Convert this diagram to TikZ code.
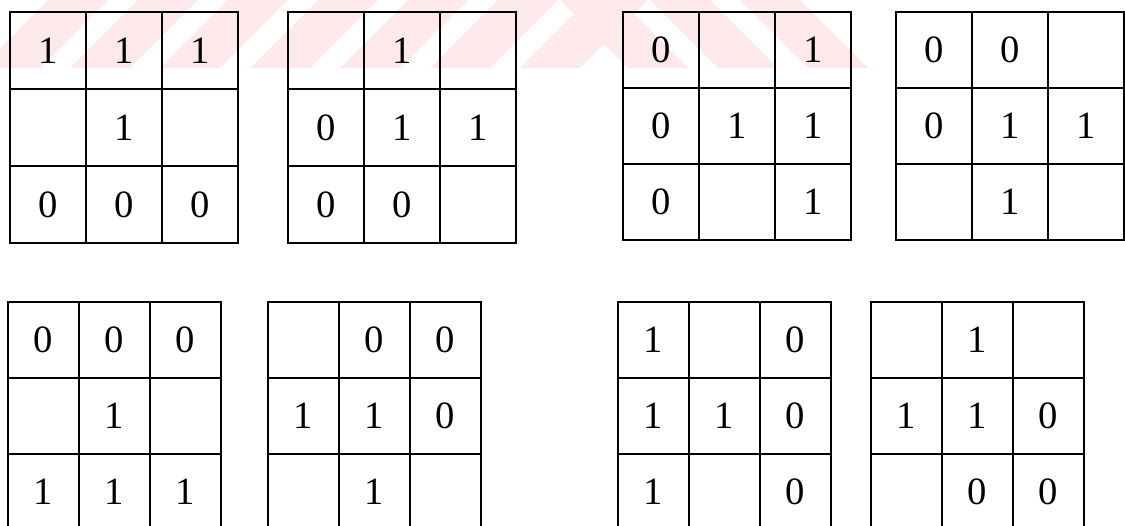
\documentclass[tikz,border=0pt]{standalone}
\usepackage{fontspec}
\setmainfont{Liberation Serif}
\usetikzlibrary{positioning}
\definecolor{markpink}{HTML}{FDE9EC}

% one 3x3 table: name, left, top, entries (row by row)
\newcommand{\cellgrid}[4]{%
  \foreach \val [count=\k from 0] in {#4} {
    \pgfmathtruncatemacro{\row}{\k/3}
    \pgfmathtruncatemacro{\col}{mod(\k,3)}
    \node[cell] (#1-\row\col) at ({#2+(\col+0.5)*\cw},{#3+(\row+0.5)*\ch}) {\val};
  }}

\begin{document}
\begin{tikzpicture}[
  x=0.02cm,y=-0.02cm,
  cell/.style={draw,line width=1.1pt,inner sep=0pt,
               minimum width=\cw*0.02cm,minimum height=\ch*0.02cm,
               font=\fontsize{22}{26}\selectfont},
  stripe/.style={fill=markpink,draw=none}
]
\useasboundingbox (0,0) rectangle (1125,525);

% faint watermark stripes
\foreach \a in {-20,70,160,250,340,430,520}
  \fill[stripe] (\a,68) -- (\a+60,68) -- (\a+128,0) -- (\a+68,0) -- cycle;
\foreach \a in {560,650,740}
  \fill[stripe] (\a,0) -- (\a+60,0) -- (\a+128,68) -- (\a+68,68) -- cycle;

% upper row
\def\cw{76}\def\ch{77}
\cellgrid{ta}{10}{12}{1,1,1,{},1,{},0,0,0}
\cellgrid{tb}{288}{12}{{},1,{},0,1,1,0,0,{}}
\def\ch{76}
\cellgrid{tc}{623}{12}{0,{},1,0,1,1,0,{},1}
\cellgrid{td}{896}{12}{0,0,{},0,1,1,{},1,{}}

% lower row
\def\cw{71}\def\ch{76}
\cellgrid{ba}{8}{302}{0,0,0,{},1,{},1,1,1}
\cellgrid{bb}{268}{302}{{},0,0,1,1,0,{},1,{}}
\cellgrid{bc}{618}{302}{1,{},0,1,1,0,1,{},0}
\cellgrid{bd}{871}{302}{{},1,{},1,1,0,{},0,0}
\end{tikzpicture}
\end{document}
